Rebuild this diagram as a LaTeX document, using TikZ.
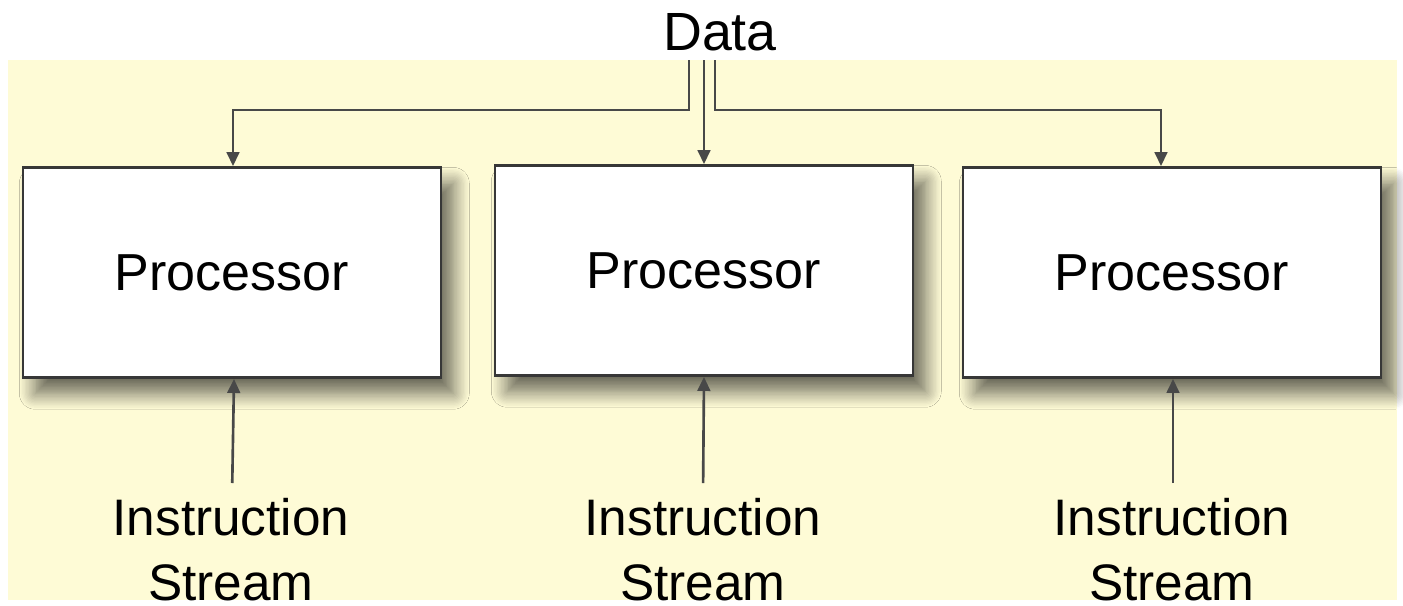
\documentclass[tikz,border=0pt]{standalone}
\usepackage{fontspec}
\setmainfont{Liberation Sans}
\usetikzlibrary{arrows.meta,shadows.blur}
\definecolor{bgyellow}{RGB}{254,251,214}
\definecolor{linegray}{RGB}{72,72,72}
\definecolor{boxgray}{RGB}{55,55,55}
\tikzset{
  proc/.style={draw=boxgray, line width=0.75pt, fill=white, minimum width=4.18cm, minimum height=2.1cm,
    inner sep=0pt, text depth=0pt, font=\fontsize{14.8pt}{18pt}\selectfont,
    blur shadow={shadow xshift=3.5pt, shadow yshift=-4.5pt, shadow blur steps=12, shadow blur radius=4.5pt, shadow opacity=60}},
  arr/.style={draw=linegray, line width=0.75pt, -{Triangle[length=4pt,width=3.6pt]}},
  instr/.style={anchor=north, inner sep=0pt, align=center, font=\fontsize{14.6pt}{18.4pt}\selectfont},
}
\begin{document}
\begin{tikzpicture}[x=0.01cm, y=-0.01cm]
\useasboundingbox (0,0) rectangle (1403,605);
\fill[bgyellow] (8,60) rectangle (1397,600);
\node[font=\fontsize{15.3pt}{18pt}\selectfont, anchor=base, inner sep=0pt] (data) at (720,50) {Data};
\node[proc] (b1) at (232,272.5) {Processor};
\node[proc] (b2) at (704,270.5) {Processor};
\node[proc] (b3) at (1172,272.5) {Processor};
\node[instr] (i1) at (231,498) {Instruction\\Stream};
\node[instr] (i2) at (703,498) {Instruction\\Stream};
\node[instr] (i3) at (1172,498) {Instruction\\Stream};
\coordinate (dl) at (689,60);
\coordinate (dm) at (704,60);
\coordinate (dr) at (715,60);
\draw[arr] (dl) -- (689,110) -| ([xshift=0.01cm]b1.north);
\draw[arr] (dm) -- (b2.north);
\draw[arr] (dr) -- (715,110) -| ([xshift=-0.11cm]b3.north);
\draw[arr, shorten <=0.15cm] ([xshift=0.01cm]i1.north) -- ([xshift=0.02cm]b1.south);
\draw[arr, shorten <=0.15cm] (i2.north) -- (b2.south);
\draw[arr, shorten <=0.15cm] ([xshift=0.01cm]i3.north) -- ([xshift=0.01cm]b3.south);
\end{tikzpicture}
\end{document}
